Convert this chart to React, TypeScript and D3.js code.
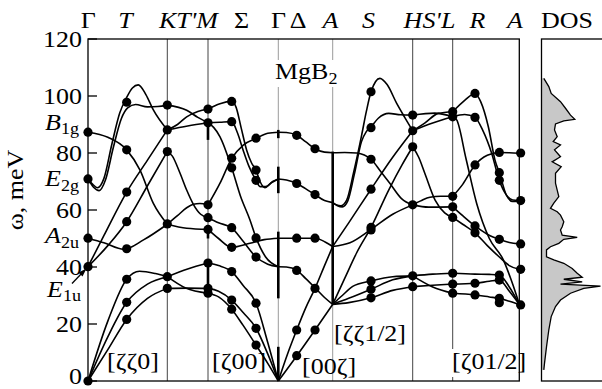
import React from "react";
import * as d3 from "d3";

const WIDTH = 602;
const HEIGHT = 389;

// Path coordinate q: integer q marks a high-symmetry point, fractions run along a segment.
const symIndex = [0, 1, 2, 3, 4, 5, 6, 7]; // Γ K M Γ A H L A
const symPixel = [88, 167.3, 208, 278.3, 332.7, 412.7, 452.7, 519.3];
const darkLines = [1, 2, 5, 6]; // K, M, H, L
const lightLines = [3, 4]; // Γ, A
const yTicks = [0, 20, 40, 60, 80, 100, 120];

type P = [number, number];

// Calculated dispersion branches, one array per segment of the path
const gammaK: P[][] = [
  [[0, 0], [0.25, 11], [0.488, 21.6], [0.75, 29], [1, 32.5]],
  [[0, 0], [0.25, 15.5], [0.488, 27.6], [0.75, 34], [1, 36.6]],
  [[0, 0], [0.25, 21], [0.488, 35.7], [0.65, 38.5], [0.85, 37.7], [1, 36.6]],
  [[0, 50.1], [0.2, 48.5], [0.45, 46.2], [0.7, 49.5], [1, 55]],
  [[0, 87.3], [0.25, 85.5], [0.488, 81.1], [0.656, 74], [0.824, 62.3], [1, 55]],
  [[0, 40.1], [0.25, 47.5], [0.488, 55.9], [0.75, 68.5], [1, 80.5]],
  [[0, 40.1], [0.2, 51], [0.488, 66.3], [0.75, 77.5], [1, 88.1]],
  [[0, 70.9], [0.06, 69], [0.12, 67.8], [0.2, 71], [0.3, 83], [0.4, 94], [0.488, 99.5], [0.56, 102.8], [0.634, 103.9], [0.73, 100.5], [0.824, 95.1], [1, 88.1]],
  [[0, 70.9], [0.07, 68], [0.14, 66.8], [0.22, 70.5], [0.32, 82], [0.42, 92], [0.5, 95.8], [0.6, 97], [0.75, 96.2], [0.88, 96.3], [1, 96.8]],
];

const kM: P[][] = [
  [[1, 32.5], [1.5, 32.6], [2, 32.5]],
  [[1, 36.6], [1.5, 39.3], [2, 41.4]],
  [[1, 36.6], [1.45, 32.6], [2, 30.8]],
  [[1, 55], [1.25, 58], [1.476, 60.8], [1.64, 62], [1.8, 62.3], [2, 61.8]],
  [[1, 55], [1.476, 53.6], [2, 53.2]],
  [[1, 80.5], [1.12, 79], [1.311, 73], [1.476, 67], [1.64, 62], [1.82, 58.5], [2, 57.3]],
  [[1, 88.1], [1.25, 90], [1.476, 92.7], [1.75, 94.6], [2, 95.4]],
  [[1, 88.1], [1.5, 89.5], [2, 90.6]],
  [[1, 96.8], [1.476, 95], [1.75, 92.5], [2, 90.6]],
];

const mGamma: P[][] = [
  [[2, 95.4], [2.17, 97.3], [2.337, 98.1], [2.4, 96], [2.47, 89], [2.55, 81], [2.62, 76.5], [2.683, 74], [2.74, 70], [2.81, 67.8], [2.9, 69.5], [3, 70.9]],
  [[2, 90.6], [2.17, 90.8], [2.337, 91], [2.42, 87], [2.5, 81], [2.58, 75.5], [2.683, 70.4], [2.74, 68.2], [2.82, 68.2], [2.92, 70], [3, 70.9]],
  [[2, 61.8], [2.171, 69.4], [2.337, 78.1], [2.502, 82.8], [2.683, 85.1], [2.85, 86.9], [3, 87.3]],
  [[2, 90.6], [2.08, 89], [2.171, 85.7], [2.337, 74.8], [2.46, 65], [2.597, 56.5], [2.683, 50.3], [2.82, 43.5], [3, 40.1]],
  [[2, 53.2], [2.15, 50], [2.337, 46.9], [2.597, 48.3], [2.8, 49.6], [3, 50.1]],
  [[2, 57.3], [2.15, 55.5], [2.337, 53.7], [2.5, 49], [2.683, 43.5], [2.85, 41], [3, 40.1]],
  [[2, 41.4], [2.15, 40.5], [2.337, 38.4], [2.5, 33.5], [2.683, 27.3], [2.85, 13.5], [3, 0]],
  [[2, 32.5], [2.15, 31.5], [2.337, 28.4], [2.5, 24], [2.683, 18.5], [2.85, 9.5], [3, 0]],
  [[2, 30.8], [2.15, 29.5], [2.337, 25.2], [2.5, 19.5], [2.683, 12.6], [2.85, 6.2], [3, 0]],
];

const gammaA: P[][] = [
  [[3, 87.3], [3.15, 87.2], [3.338, 86.2], [3.5, 84], [3.675, 81.5], [3.85, 80.3], [4, 80.1]],
  [[3, 70.9], [3.15, 70.5], [3.338, 69.3], [3.5, 67.5], [3.675, 65.4], [3.85, 63.3], [4, 62.6]],
  [[3, 50.1], [3.338, 50.1], [3.675, 50.1], [3.86, 48.8], [4, 47.2]],
  [[3, 0], [3.17, 9.5], [3.338, 17.9], [3.5, 25.5], [3.675, 32.5], [3.85, 40.5], [4, 47.2]],
  [[3, 0], [3.338, 8.8], [3.675, 17.9], [4, 26.9]],
  [[3, 40.1], [3.15, 40], [3.338, 38.9], [3.5, 36], [3.675, 32.7], [3.85, 29.3], [4, 26.9]],
];

const aH: P[][] = [
  [[4, 80.1], [4.15, 80.2], [4.3, 80], [4.479, 77.8], [4.6, 73.5], [4.716, 69.3], [4.86, 64], [5, 61.8]],
  [[4, 47.2], [4.216, 48.5], [4.479, 53.2], [4.75, 58.5], [5, 61.8]],
  [[4, 62.6], [4.05, 61.8], [4.1, 61.5], [4.175, 63.5], [4.26, 73], [4.36, 86], [4.42, 94.5], [4.479, 101.5], [4.59, 106.2], [4.68, 104], [4.8, 97.4], [4.9, 92.5], [5, 87.8]],
  [[4, 62.6], [4.06, 61.5], [4.12, 61.1], [4.19, 63.3], [4.27, 72.5], [4.36, 84], [4.42, 87.5], [4.479, 89.2], [4.57, 92.2], [4.7, 93.9], [4.85, 93.4], [5, 93.3]],
  [[4, 47.2], [4.2, 55.5], [4.479, 67.3], [4.75, 78.5], [5, 87.8]],
  [[4, 26.9], [4.15, 36], [4.3, 45], [4.479, 53.9], [4.7, 67], [4.87, 76], [5, 82.2]],
  [[4, 26.9], [4.12, 30], [4.25, 33.2], [4.479, 35.1], [4.75, 36.6], [5, 36.9]],
  [[4, 26.9], [4.2, 29], [4.479, 32.2], [4.75, 35.5], [5, 36.9]],
  [[4, 26.9], [4.2, 27.5], [4.479, 29.2], [4.75, 31.8], [5, 33.1]],
];

const hL: P[][] = [
  [[5, 33.1], [5.5, 33.6], [6, 34]],
  [[5, 36.9], [5.5, 37.5], [6, 37.8]],
  [[5, 36.9], [5.5, 33], [6, 30.8]],
  [[5, 61.8], [5.2, 63.2], [5.43, 64.5], [5.7, 64.8], [6, 64.8]],
  [[5, 61.8], [5.4, 61], [6, 61.1]],
  [[5, 82.2], [5.15, 78.5], [5.3, 73], [5.56, 63.5], [5.8, 59], [6, 57.4]],
  [[5, 87.8], [5.3, 90.5], [5.64, 93.9], [6, 94.5]],
  [[5, 87.8], [5.5, 90.5], [6, 92.7]],
  [[5, 93.3], [5.55, 94], [6, 92.7]],
];

const lA: P[][] = [
  [[6, 94.5], [6.18, 98.5], [6.335, 100.9], [6.42, 98], [6.535, 89.2], [6.635, 77.5], [6.7, 73.1], [6.81, 65], [6.9, 63], [7, 63.3]],
  [[6, 92.7], [6.18, 93.5], [6.335, 92.5], [6.45, 88], [6.585, 79.9], [6.7, 70.4], [6.8, 65.5], [6.9, 63.5], [7, 63.3]],
  [[6, 64.8], [6.15, 69], [6.335, 75.8], [6.52, 79.2], [6.7, 80.2], [6.85, 80.1], [7, 79.9]],
  [[6, 61.1], [6.15, 58], [6.335, 54.4], [6.52, 51.5], [6.7, 49.7], [6.85, 48.6], [7, 48.1]],
  [[6, 57.4], [6.15, 55], [6.335, 52], [6.52, 47.5], [6.7, 43.5], [6.85, 40.5], [7, 39.2]],
  [[6, 92.7], [6.06, 91.6], [6.2, 78], [6.36, 62.3], [6.55, 50], [6.76, 42.5], [6.9, 34], [7, 26.9]],
  [[6, 37.8], [6.335, 37.5], [6.55, 37.4], [6.7, 37.2], [6.85, 33], [7, 26.9]],
  [[6, 34], [6.335, 34.3], [6.55, 35], [6.7, 35.4], [6.85, 31.5], [7, 26.9]],
  [[6, 30.8], [6.335, 30.2], [6.55, 29.5], [6.7, 29], [6.85, 28], [7, 26.9]],
];

// Measured phonon frequencies (q, ω in meV)
const dotsGammaK: P[] = [
  [0, 0], [0, 40.1], [0, 50.1], [0, 70.9], [0, 87.3],
  [0.488, 21.6], [0.488, 27.6], [0.488, 35.7], [0.488, 46.4], [0.488, 55.9], [0.488, 66.3], [0.488, 81.1], [0.488, 97.8],
];
const dotsK: P[] = [[1, 32.5], [1, 36.6], [1, 55.1], [1, 80.5], [1, 88.1], [1, 96.8]];
const dotsM: P[] = [[2, 30.8], [2, 32.5], [2, 41.4], [2, 53.2], [2, 57.3], [2, 61.8], [2, 90.6], [2, 95.4]];
const dotsMGamma: P[] = [
  [2.337, 25.2], [2.337, 28.4], [2.337, 38.4], [2.337, 46.9], [2.337, 53.8], [2.337, 74.8], [2.337, 78.2], [2.337, 91], [2.337, 98.1],
  [2.683, 12.6], [2.683, 18.5], [2.683, 27.3], [2.683, 43.5], [2.683, 50.2], [2.683, 70.4], [2.683, 74], [2.683, 85.2],
];
const dotsGammaA: P[] = [
  [3.338, 8.9], [3.338, 17.9], [3.338, 38.8], [3.338, 50.1], [3.338, 69.3], [3.338, 86.2],
  [3.675, 17.9], [3.675, 32.5], [3.675, 50.1], [3.675, 65.4], [3.675, 81.5],
];
const dotsAH: P[] = [
  [4.479, 29.2], [4.479, 32.2], [4.479, 35.1], [4.479, 53], [4.479, 53.9], [4.479, 67.3], [4.479, 77.8], [4.479, 88.9], [4.479, 101.5],
];
const dotsH: P[] = [[5, 33.1], [5, 36.9], [5, 61.8], [5, 82.2], [5, 87.8], [5, 93.3]];
const dotsL: P[] = [[6, 30.8], [6, 34], [6, 37.8], [6, 57.4], [6, 61.1], [6, 64.8], [6, 92.7], [6, 94.5]];
const dotsLA: P[] = [
  [6.335, 30.2], [6.335, 34.3], [6.335, 52], [6.335, 54.4], [6.335, 75.8], [6.335, 92.5], [6.335, 100.9],
  [6.7, 27.5], [6.7, 29], [6.7, 35.4], [6.7, 37.2], [6.7, 49.7], [6.7, 70.4], [6.7, 73.1], [6.7, 80.2],
];
const dotsA: P[] = [[7.02, 26.7], [7.02, 39.2], [7.02, 48.1], [7.02, 63.3], [7.02, 80]];

// Degeneracy markers drawn on the vertical lines: [q, ω from, ω to]
const thickBars: [number, number, number][] = [
  [2, 84.6, 90.6], [2, 50, 54.1], [2, 32.5, 41.4],
  [3, 85.2, 88.1], [3, 65.9, 75.2], [3, 29, 52.4], [3, 0.3, 12],
  [4, 26.9, 80.5],
];

// Phonon density of states
const dosOmega = [106.2, 103.3, 100.9, 98.0, 95.7, 93.3, 91.8, 91.3, 90.2, 88.1, 85.7, 84.0, 82.8, 81.1, 78.7, 76.9, 75.2, 72.9, 69.4, 67.0, 64.7, 62.4, 60.6, 59.4, 58.2, 55.9, 54.1, 53.0, 51.2, 50.4, 49.7, 48.3, 47.1, 46.0, 43.6, 42.5, 41.3, 39.5, 37.8, 36.4, 35.7, 34.8, 34.0, 33.3, 32.5, 30.8, 28.4, 26.1, 22.6, 17.9, 12.0, 6.2, 3.9];
const dosDensity = [2.3, 7.3, 9.7, 19, 24, 29, 33.3, 22.3, 14, 13, 15.7, 11.7, 19, 13, 19, 10.7, 19.7, 14, 14, 15.7, 17.3, 12.3, 9, 15.7, 19, 22.3, 20.7, 19, 20.7, 35.7, 22.3, 17.3, 9, 5, 5, 12.3, 22.3, 30.7, 35.7, 40.7, 22.3, 40.7, 19, 59, 42.3, 29, 19, 14, 9.7, 7.3, 5, 3, 2.3];

const topLabels = [
  { t: "Γ", x: 88.3, it: false },
  { t: "T", x: 125.5, it: true },
  { t: "KT'M", x: 188.5, it: true },
  { t: "Σ", x: 241.5, it: false },
  { t: "Γ", x: 278.5, it: false },
  { t: "Δ", x: 298, it: false },
  { t: "A", x: 330.5, it: true },
  { t: "S", x: 368.5, it: true },
  { t: "HS'L", x: 429.5, it: true },
  { t: "R", x: 477.5, it: true },
  { t: "A", x: 515, it: true },
  { t: "DOS", x: 567, it: false },
];

const modeLabels = [
  { m: "B", s: "1g", x: 45, y: 130, dy: 4 },
  { m: "E", s: "2g", x: 45, y: 186, dy: 5 },
  { m: "A", s: "2u", x: 45, y: 243, dy: 5 },
  { m: "E", s: "1u", x: 47, y: 297, dy: 4 },
];

const directionLabels = [
  { t: "[ζζ0]", x: 107, y: 369 },
  { t: "[ζ00]", x: 212, y: 369 },
  { t: "[00ζ]", x: 302, y: 373.5 },
  { t: "[ζζ1/2]", x: 334, y: 341 },
];

const FONT = "'Liberation Serif', 'Times New Roman', serif";
const FS = 23;
const SX = 1.13;

function Label({ x, y, anchor = "start", size = FS, italic = false, children }: any) {
  return (
    <text
      transform={`translate(${x},${y}) scale(${SX},1)`}
      textAnchor={anchor}
      fontSize={size}
      fontStyle={italic ? "italic" : "normal"}
      fontFamily={FONT}
      fill="#000"
    >
      {children}
    </text>
  );
}

export default function App() {
  const x = d3.scaleLinear().domain(symIndex).range(symPixel);
  const y = d3.scaleLinear().domain([0, 120]).range([381, 39]);
  const xd = d3.scaleLinear().domain([0, 60]).range([541.5, 601.5]);

  const line = d3
    .line<P>()
    .x((d) => x(d[0]))
    .y((d) => y(d[1]))
    .curve(d3.curveMonotoneX);

  const branches = [...gammaK, ...kM, ...mGamma, ...gammaA, ...aH, ...hL, ...lA];
  const dots = [
    ...dotsGammaK, ...dotsK, ...dotsM, ...dotsMGamma, ...dotsGammaA,
    ...dotsAH, ...dotsH, ...dotsL, ...dotsLA, ...dotsA,
  ];

  const dos = dosOmega.map((w, i) => [w, dosDensity[i]] as P);
  const dosArea = d3
    .area<P>()
    .y((d) => y(d[0]))
    .x0(xd(0))
    .x1((d) => xd(d[1]));
  const dosLine = d3
    .line<P>()
    .y((d) => y(d[0]))
    .x((d) => xd(d[1]));

  const [x0, x1] = [x(0), x(7)];
  const [yb, yt] = [y(0), y(120)];

  return (
    <svg
      width={WIDTH}
      height={HEIGHT}
      style={{ position: "absolute", left: 0, top: 0, background: "#fff" }}
    >
      <rect width={WIDTH} height={HEIGHT} fill="#fff" />

      {/* vertical lines at the high-symmetry points */}
      {lightLines.map((q) => (
        <line key={"l" + q} x1={x(q)} x2={x(q)} y1={yt} y2={yb} stroke="#9a9a9a" strokeWidth={1} />
      ))}
      {darkLines.map((q) => (
        <line key={"d" + q} x1={x(q)} x2={x(q)} y1={yt} y2={yb} stroke="#444" strokeWidth={1} />
      ))}
      {thickBars.map(([q, a, b], i) => (
        <line key={"b" + i} x1={x(q)} x2={x(q)} y1={y(a)} y2={y(b)} stroke="#000" strokeWidth={2.6} />
      ))}

      {/* dispersion curves */}
      {branches.map((b, i) => (
        <path key={"c" + i} d={line(b) ?? ""} fill="none" stroke="#000" strokeWidth={1.6} />
      ))}

      {/* measured points */}
      {dots.map((d, i) => (
        <circle key={"p" + i} cx={x(d[0])} cy={y(d[1])} r={4.6} fill="#000" />
      ))}

      {/* frame and ticks */}
      <rect x={x0} y={yt} width={x1 - x0} height={yb - yt} fill="none" stroke="#000" strokeWidth={1.3} />
      {yTicks.map((t) => (
        <g key={"t" + t}>
          <line x1={x0} x2={x0 + 9} y1={y(t)} y2={y(t)} stroke="#000" strokeWidth={1.3} />
          <Label x={82} y={Math.min(y(t) + 8, 383.5)} anchor="end">{t}</Label>
        </g>
      ))}

      {/* mode labels at Γ */}
      {modeLabels.map((m, i) => (
        <text
          key={"m" + i}
          transform={`translate(${m.x},${m.y}) scale(${SX},1)`}
          fontFamily={FONT}
          fontSize={FS}
        >
          <tspan fontStyle="italic">{m.m}</tspan>
          <tspan fontSize={16} dy={m.dy}>{m.s}</tspan>
        </text>
      ))}
      <line x1={72} y1={283.5} x2={83} y2={272} stroke="#000" strokeWidth={1.3} />
      <path d="M86.5,268.5 L78.5,272.5 L82.5,276.5 Z" fill="#000" />

      {/* axis title */}
      <text
        transform={`translate(23,190) rotate(-90) scale(${SX},1)`}
        textAnchor="middle"
        fontFamily={FONT}
        fontSize={FS}
      >
        ω, meV
      </text>

      {/* top labels */}
      {topLabels.map((l, i) => (
        <Label key={"top" + i} x={l.x} y={28} anchor="middle" italic={l.it}>
          {l.t}
        </Label>
      ))}

      {/* compound label */}
      <rect x={272} y={60} width={64} height={27} fill="#fff" />
      <text transform={`translate(275,79) scale(${SX},1)`} fontFamily={FONT} fontSize={FS}>
        MgB<tspan fontSize={16} dy={5}>2</tspan>
      </text>

      {/* propagation directions */}
      {directionLabels.map((l, i) => (
        <Label key={"dir" + i} x={l.x} y={l.y}>
          {l.t}
        </Label>
      ))}
      <rect x={451} y={349} width={67} height={28} fill="#fff" />
      <Label x={452} y={368.5}>[ζ01/2]</Label>

      {/* density of states panel */}
      <path d={dosArea(dos) ?? ""} fill="#c8c8c8" stroke="none" />
      <path d={dosLine(dos) ?? ""} fill="none" stroke="#000" strokeWidth={1.3} />
      <rect x={541.5} y={yt} width={80} height={yb - yt} fill="none" stroke="#000" strokeWidth={1.3} />
    </svg>
  );
}
